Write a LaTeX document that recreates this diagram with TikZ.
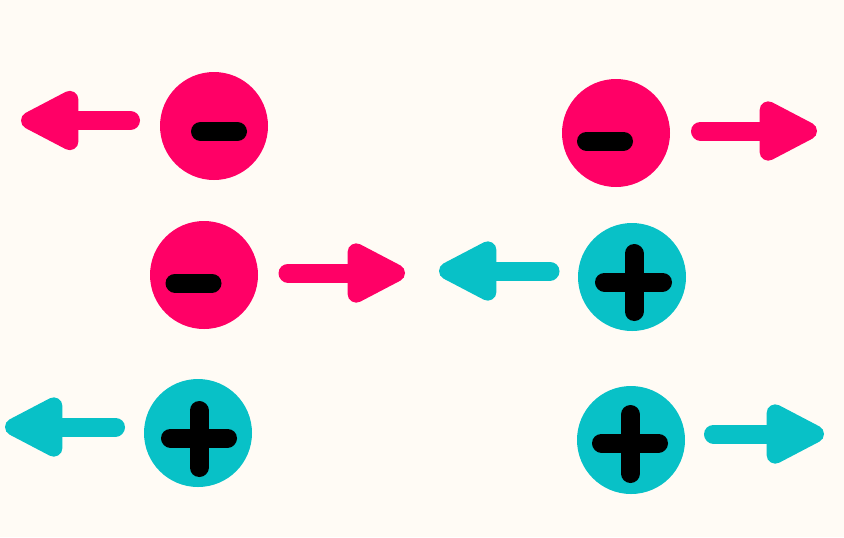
\documentclass[tikz,border=0pt]{standalone}
\usepackage{tikz}
\usetikzlibrary{arrows.meta}
\definecolor{pink}{HTML}{FF0066}
\definecolor{teal}{HTML}{08C1C7}
\definecolor{paper}{HTML}{FFFBF5}

\begin{document}
\begin{tikzpicture}[x=0.2mm,y=-0.2mm,
  charge/.style={circle,minimum size=21.6mm,inner sep=0pt},
  sign/.style={line width=3.8mm,line cap=round,black},
  arr/.style={line width=3.8mm,line cap=round,-{Triangle[length=13.8mm,width=13mm,round]}}]
\fill[paper] (0,0) rectangle (844,537);
\useasboundingbox (0,0) rectangle (844,537);
% charges
\node[charge,fill=pink] (a) at (214,126) {};
\node[charge,fill=pink] (b) at (616,133) {};
\node[charge,fill=pink] (c) at (204,275) {};
\node[charge,fill=teal] (d) at (632,277) {};
\node[charge,fill=teal] (e) at (198,433) {};
\node[charge,fill=teal] (f) at (631,440) {};
% signs
\draw[sign] (200.5,131.5)--(237.5,131.5);
\draw[sign] (586.5,141)--(623.5,141);
\draw[sign] (175,283)--(212,283);
\draw[sign] (604.5,282)--(662.5,282) (634,253.5)--(634,311.5);
\draw[sign] (170.5,438)--(227.5,438) (199,410.5)--(199,467.5);
\draw[sign] (601.5,443)--(658.5,443) (630.5,414.5)--(630.5,473.5);
% arrow ends
\coordinate (a1) at (130.5,120.5); \coordinate (a2) at (21,120.5);
\coordinate (b1) at (700.5,131); \coordinate (b2) at (817,131);
\coordinate (c1) at (288,273); \coordinate (c2) at (405,273);
\coordinate (d1) at (550,271); \coordinate (d2) at (439,271);
\coordinate (e1) at (115.5,427); \coordinate (e2) at (5,427);
\coordinate (f1) at (713.5,434); \coordinate (f2) at (824,434);
\draw[arr,pink] (a1)--(a2);
\draw[arr,pink] (b1)--(b2);
\draw[arr,pink] (c1)--(c2);
\draw[arr,teal] (d1)--(d2);
\draw[arr,teal] (e1)--(e2);
\draw[arr,teal] (f1)--(f2);
\end{tikzpicture}
\end{document}
